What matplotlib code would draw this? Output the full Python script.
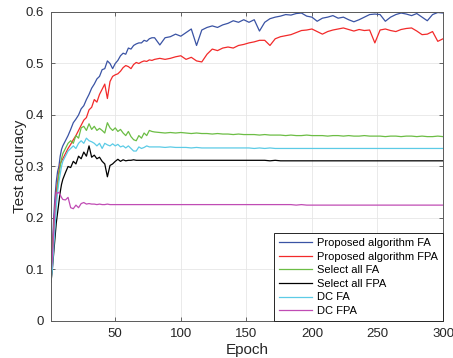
import numpy as np
import matplotlib
matplotlib.use("Agg")
import matplotlib.pyplot as plt

# ============================================================
#   DATA
# ============================================================

# shared epoch grid: 1..10, then every 2 up to 80, then every 4 up to 300
epochs = list(range(1, 11)) + list(range(12, 81, 2)) + list(range(84, 301, 4))

prop_fa = [
    0.13, 0.14, 0.20, 0.24, 0.27, 0.29, 0.30, 0.32, 0.333, 0.34,
    0.35, 0.36, 0.372, 0.385, 0.392, 0.40, 0.412, 0.418, 0.43, 0.44,
    0.452, 0.46, 0.47, 0.475, 0.488, 0.49, 0.505, 0.50, 0.49, 0.50,
    0.506, 0.515, 0.52, 0.518, 0.53, 0.528, 0.535, 0.538, 0.54, 0.54,
    0.545, 0.543, 0.548, 0.55, 0.55,
    0.536, 0.55, 0.552, 0.557, 0.553, 0.56, 0.567, 0.535, 0.565, 0.57,
    0.573, 0.57, 0.575, 0.578, 0.583, 0.58, 0.585, 0.58, 0.585, 0.563,
    0.58, 0.587, 0.59, 0.592, 0.595, 0.594, 0.597, 0.598, 0.592, 0.59,
    0.582, 0.588, 0.59, 0.593, 0.588, 0.59, 0.585, 0.581, 0.585, 0.59,
    0.595, 0.596, 0.595, 0.582, 0.59, 0.595, 0.598, 0.596, 0.593, 0.597,
    0.59, 0.583, 0.595, 0.599, 0.598,
]

prop_fpa = [
    0.11, 0.13, 0.18, 0.22, 0.25, 0.27, 0.29, 0.305, 0.31, 0.315,
    0.325, 0.335, 0.343, 0.352, 0.36, 0.37, 0.38, 0.39, 0.395, 0.41,
    0.415, 0.43, 0.425, 0.44, 0.45, 0.46, 0.432, 0.465, 0.475, 0.478,
    0.48, 0.485, 0.492, 0.496, 0.494, 0.49, 0.498, 0.502, 0.50, 0.503,
    0.505, 0.504, 0.507, 0.506, 0.508,
    0.51, 0.508, 0.51, 0.513, 0.515, 0.508, 0.512, 0.505, 0.503, 0.518,
    0.528, 0.525, 0.53, 0.532, 0.53, 0.535, 0.537, 0.54, 0.542, 0.545,
    0.545, 0.535, 0.548, 0.552, 0.554, 0.556, 0.56, 0.564, 0.565, 0.567,
    0.562, 0.557, 0.562, 0.565, 0.567, 0.569, 0.566, 0.563, 0.566, 0.564,
    0.565, 0.54, 0.565, 0.567, 0.564, 0.562, 0.566, 0.568, 0.569, 0.563,
    0.556, 0.557, 0.562, 0.543, 0.548,
]

sel_fa = [
    0.09, 0.12, 0.17, 0.21, 0.24, 0.26, 0.285, 0.30, 0.315, 0.325,
    0.335, 0.345, 0.35, 0.345, 0.36, 0.355, 0.375, 0.378, 0.37, 0.383,
    0.372, 0.378, 0.37, 0.374, 0.37, 0.365, 0.385, 0.375, 0.37, 0.375,
    0.368, 0.372, 0.365, 0.36, 0.368, 0.358, 0.352, 0.35, 0.36, 0.355,
    0.365, 0.36, 0.37, 0.368, 0.367,
    0.366, 0.365, 0.366, 0.365, 0.366, 0.365, 0.364, 0.365, 0.364, 0.364,
    0.363, 0.364, 0.363, 0.363, 0.362, 0.363, 0.362, 0.362, 0.362, 0.361,
    0.362, 0.361, 0.361, 0.361, 0.360, 0.361, 0.360, 0.360, 0.361, 0.360,
    0.360, 0.360, 0.359, 0.360, 0.360, 0.359, 0.360, 0.359, 0.359, 0.360,
    0.359, 0.359, 0.359, 0.358, 0.359, 0.359, 0.358, 0.359, 0.359, 0.358,
    0.359, 0.358, 0.358, 0.359, 0.358,
]

sel_fpa = [
    0.075, 0.10, 0.13, 0.16, 0.19, 0.21, 0.23, 0.25, 0.265, 0.275,
    0.288, 0.30, 0.298, 0.31, 0.305, 0.32, 0.315, 0.328, 0.32, 0.34,
    0.318, 0.322, 0.315, 0.318, 0.31, 0.305, 0.28, 0.302, 0.305, 0.31,
    0.314, 0.31, 0.313, 0.311, 0.312, 0.312, 0.313, 0.312, 0.312, 0.312,
    0.312, 0.312, 0.312, 0.312, 0.312,
    0.312, 0.312, 0.312, 0.312, 0.312, 0.312, 0.312, 0.312, 0.312, 0.312,
    0.312, 0.312, 0.312, 0.312, 0.312, 0.312, 0.312, 0.312, 0.312, 0.312,
    0.312, 0.311, 0.312, 0.311, 0.311, 0.311, 0.311, 0.311, 0.311, 0.311,
    0.311, 0.311, 0.311, 0.311, 0.311, 0.311, 0.311, 0.311, 0.311, 0.311,
    0.311, 0.311, 0.311, 0.311, 0.311, 0.311, 0.311, 0.311, 0.311, 0.311,
    0.311, 0.311, 0.311, 0.311, 0.311,
]

dc_fa = [
    0.08, 0.10, 0.14, 0.18, 0.22, 0.25, 0.27, 0.285, 0.30, 0.31,
    0.32, 0.33, 0.335, 0.34, 0.335, 0.345, 0.35, 0.345, 0.355, 0.35,
    0.348, 0.345, 0.34, 0.345, 0.335, 0.345, 0.342, 0.34, 0.344, 0.34,
    0.343, 0.338, 0.34, 0.336, 0.34, 0.335, 0.33, 0.33, 0.338, 0.335,
    0.337, 0.34, 0.338, 0.338, 0.338,
    0.338, 0.337, 0.338, 0.337, 0.337, 0.337, 0.336, 0.337, 0.336, 0.336,
    0.336, 0.336, 0.336, 0.336, 0.336, 0.336, 0.336, 0.336, 0.335, 0.336,
    0.335, 0.336, 0.335, 0.335, 0.335, 0.335, 0.335, 0.335, 0.335, 0.335,
    0.335, 0.335, 0.335, 0.335, 0.335, 0.335, 0.335, 0.335, 0.335, 0.335,
    0.335, 0.335, 0.335, 0.335, 0.335, 0.335, 0.335, 0.335, 0.335, 0.335,
    0.335, 0.335, 0.335, 0.335, 0.335,
]

dc_fpa = [
    0.09, 0.12, 0.17, 0.22, 0.25, 0.248, 0.25, 0.245, 0.24, 0.236,
    0.235, 0.24, 0.22, 0.218, 0.225, 0.22, 0.228, 0.23, 0.227, 0.228,
    0.227, 0.227, 0.226, 0.227, 0.226, 0.226, 0.227, 0.226, 0.226, 0.226,
    0.226, 0.226, 0.226, 0.226, 0.226, 0.226, 0.226, 0.226, 0.226, 0.226,
    0.226, 0.226, 0.226, 0.226, 0.226,
    0.226, 0.226, 0.226, 0.226, 0.226, 0.226, 0.226, 0.226, 0.226, 0.226,
    0.226, 0.226, 0.226, 0.226, 0.226, 0.226, 0.226, 0.226, 0.226, 0.226,
    0.226, 0.226, 0.226, 0.226, 0.226, 0.226, 0.225, 0.226, 0.225, 0.225,
    0.225, 0.225, 0.225, 0.225, 0.225, 0.225, 0.225, 0.225, 0.225, 0.225,
    0.225, 0.225, 0.225, 0.225, 0.225, 0.225, 0.225, 0.225, 0.225, 0.225,
    0.225, 0.225, 0.225, 0.225, 0.225,
]

labels = ["Proposed algorithm FA", "Proposed algorithm FPA", "Select all FA",
          "Select all FPA", "DC FA", "DC FPA"]
colors = ["#3a53a4", "#f22a2a", "#6cbd45", "#000000", "#5ccbe6", "#c04cb4"]

# ============================================================
#   PLOT
# ============================================================

plt.rcParams["font.family"] = ["Liberation Sans", "DejaVu Sans"]

fig = plt.figure(figsize=(4.53, 3.58), dpi=100)
ax = fig.add_axes([0.1126, 0.1034, 0.8654, 0.8631])

series = [prop_fa, prop_fpa, sel_fa, sel_fpa, dc_fa, dc_fpa]
for vals, lab, col in zip(series, labels, colors):
    ax.plot(epochs, vals, color=col, lw=0.9, label=lab)

ax.set_xlim(1, 300)
ax.set_ylim(0, 0.6)
ax.set_xticks([50, 100, 150, 200, 250, 300])
ax.set_yticks([0, 0.1, 0.2, 0.3, 0.4, 0.5, 0.6])
ax.set_yticklabels(["0", "0.1", "0.2", "0.3", "0.4", "0.5", "0.6"])
ax.grid(True, color="#e6e6e6", lw=0.6)
ax.set_axisbelow(True)

ax.tick_params(direction="in", top=True, right=True, length=3, width=0.6,
               colors="#4d4d4d", labelcolor="#262626", labelsize=9.5, pad=5)
for s in ax.spines.values():
    s.set_color("#5a5a5a")
    s.set_linewidth(0.7)

ax.set_xlabel("Epoch", fontsize=11, color="#262626", labelpad=2)
ax.set_ylabel("Test accuracy", fontsize=11, color="#262626", labelpad=-1)

leg = ax.legend(loc="lower right", fontsize=8, frameon=True, fancybox=False,
                edgecolor="#262626", framealpha=1, borderaxespad=0,
                handlelength=3.0, handletextpad=0.45, labelspacing=0.32,
                borderpad=0.45)
leg.get_frame().set_linewidth(0.7)

plt.savefig("out.png", dpi=100)
